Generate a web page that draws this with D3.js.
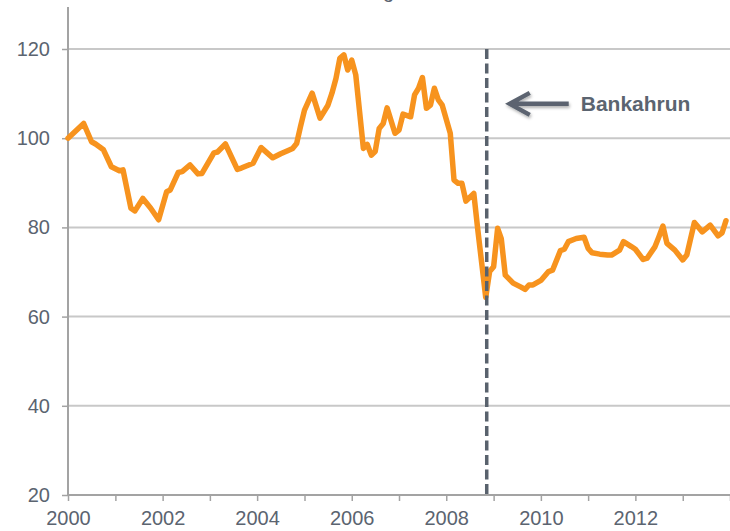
<!DOCTYPE html>
<html lang="de">
<head>
  <meta charset="UTF-8" />
  <title>Bankahrun</title>
  <script src="https://d3js.org/d3.v7.min.js"></script>
  <style>
    html, body {
      margin: 0;
      padding: 0;
      background: #fff;
      font-family: "Liberation Sans", Arial, sans-serif;
    }
    svg {
      display: block;
    }
  </style>
</head>
<body>
<svg width="730" height="531"></svg>
<script>
  // monthly index, Jan 2000 = 100
  const months = [
    "2000-01", "2000-05", "2000-07", "2000-08", "2000-10", "2000-12",
    "2001-02", "2001-03", "2001-05", "2001-06", "2001-08", "2001-10", "2001-12",
    "2002-02", "2002-03", "2002-05", "2002-06", "2002-08", "2002-10", "2002-11",
    "2003-02", "2003-03", "2003-05", "2003-08", "2003-09", "2003-12",
    "2004-02", "2004-05", "2004-07", "2004-09", "2004-10", "2004-11", "2004-12",
    "2005-01", "2005-03", "2005-05", "2005-07", "2005-08", "2005-09", "2005-10", "2005-11", "2005-12",
    "2006-01", "2006-02", "2006-04", "2006-05", "2006-06", "2006-07", "2006-08", "2006-09", "2006-10", "2006-12",
    "2007-01", "2007-02", "2007-04", "2007-05", "2007-06", "2007-07", "2007-08", "2007-09", "2007-10", "2007-11", "2007-12",
    "2008-02", "2008-03", "2008-04", "2008-05", "2008-06", "2008-08", "2008-09", "2008-11", "2008-12",
    "2009-01", "2009-02", "2009-03", "2009-04", "2009-06", "2009-08", "2009-09", "2009-10", "2009-11",
    "2010-01", "2010-03", "2010-04", "2010-06", "2010-07", "2010-08", "2010-10", "2010-12",
    "2011-01", "2011-02", "2011-04", "2011-06", "2011-07", "2011-09", "2011-10", "2011-12",
    "2012-01", "2012-03", "2012-04", "2012-06", "2012-07", "2012-08", "2012-09", "2012-11",
    "2013-01", "2013-02", "2013-04", "2013-06", "2013-08", "2013-10", "2013-11", "2013-12"
  ];
  const values = [
    100.0, 103.3, 99.2, 98.7, 97.4, 93.6,
    92.7, 92.9, 84.3, 83.7, 86.5, 84.3, 81.7,
    88.0, 88.4, 92.3, 92.5, 94.0, 92.0, 92.1,
    96.7, 96.9, 98.7, 93.0, 93.3, 94.4,
    97.9, 95.6, 96.5, 97.3, 97.7, 98.8, 102.6,
    106.3, 110.1, 104.5, 107.4, 110.1, 113.4, 117.9, 118.7, 115.3,
    117.5, 114.2, 97.7, 98.6, 96.2, 97.0, 102.2, 103.3, 106.8, 101.1,
    101.8, 105.4, 104.8, 109.7, 111.2, 113.6, 106.7, 107.4, 111.2, 108.6, 107.4,
    101.1, 90.6, 89.9, 89.9, 85.9, 87.6, 79.4, 64.3, 70.1,
    71.2, 79.8, 77.5, 69.3, 67.5, 66.6, 66.1, 67.1, 67.1,
    68.1, 70.1, 70.4, 74.8, 75.1, 76.8, 77.5, 77.8,
    75.3, 74.3, 74.0, 73.8, 73.8, 74.9, 76.8, 75.7,
    75.1, 72.8, 73.1, 75.7, 77.9, 80.3, 76.4, 74.9,
    72.7, 73.8, 81.1, 79.0, 80.5, 78.1, 78.8, 81.5
  ];
  const yTicks = [20, 40, 60, 80, 100, 120];
  const xLabelYears = [2000, 2002, 2004, 2006, 2008, 2010, 2012];
  const crashMonth = "2008-11";
  const crashLabel = "Bankahrun";
  const title = "Wechselkursentwicklung Isländische Krone";

  const svg = d3.select("svg");
  const parse = d3.timeParse("%Y-%m");
  const data = months.map((m, i) => ({ date: parse(m), value: values[i] }));

  const plotLeft = 68, plotRight = 730, plotTop = 49, plotBottom = 495;
  const x = d3.scaleTime()
    .domain([new Date(2000, 0, 1), new Date(2014, 0, 1)])
    .range([plotLeft, plotRight]);
  const y = d3.scaleLinear().domain([20, 120]).range([plotBottom, plotTop]);

  const textColor = "#5b6470";
  const axisColor = "#a3a3a3";

  // title (cropped at the top of the picture)
  const titleText = svg.append("text")
    .attr("y", -2)
    .attr("font-size", 20)
    .attr("fill", textColor)
    .text(title);
  const gIndex = title.indexOf("g");
  const gOffset = titleText.node().getSubStringLength(0, gIndex);
  titleText.attr("x", 383 - gOffset);

  // gridlines
  svg.append("g")
    .selectAll("line")
    .data(yTicks.filter(d => d > 20))
    .join("line")
    .attr("x1", plotLeft).attr("x2", plotRight)
    .attr("y1", d => y(d)).attr("y2", d => y(d))
    .attr("stroke", "#c8c8c8").attr("stroke-width", 2);

  // y axis
  const yAxis = svg.append("g")
    .attr("transform", `translate(${plotLeft},0)`)
    .call(d3.axisLeft(y).tickValues(yTicks).tickSize(6).tickPadding(12));
  yAxis.select(".domain").remove();
  yAxis.selectAll(".tick line").attr("stroke", axisColor).attr("stroke-width", 1.5);
  yAxis.selectAll(".tick text")
    .attr("font-size", 20).attr("font-family", "Liberation Sans, Arial, sans-serif")
    .attr("fill", textColor);
  svg.append("line")
    .attr("x1", plotLeft).attr("x2", plotLeft)
    .attr("y1", 7).attr("y2", plotBottom)
    .attr("stroke", axisColor).attr("stroke-width", 2);

  // x axis
  const xAxis = svg.append("g")
    .attr("transform", `translate(0,${plotBottom})`)
    .call(d3.axisBottom(x)
      .ticks(d3.timeYear.every(1))
      .tickSize(6)
      .tickPadding(10)
      .tickFormat(d => xLabelYears.includes(d.getFullYear()) ? d.getFullYear() : ""));
  xAxis.select(".domain").remove();
  xAxis.selectAll(".tick line").attr("stroke", axisColor).attr("stroke-width", 1.5);
  xAxis.selectAll(".tick text")
    .attr("font-size", 20).attr("font-family", "Liberation Sans, Arial, sans-serif")
    .attr("fill", textColor);
  svg.append("line")
    .attr("x1", plotLeft).attr("x2", plotRight)
    .attr("y1", plotBottom).attr("y2", plotBottom)
    .attr("stroke", axisColor).attr("stroke-width", 2);

  // series
  const line = d3.line().x(d => x(d.date)).y(d => y(d.value));
  svg.append("path")
    .datum(data)
    .attr("d", line)
    .attr("fill", "none")
    .attr("stroke", "#f7931e")
    .attr("stroke-width", 5.5)
    .attr("stroke-linejoin", "round")
    .attr("stroke-linecap", "round");

  // bank run marker
  const cx = x(parse(crashMonth)) + 1;
  svg.append("line")
    .attr("x1", cx).attr("x2", cx)
    .attr("y1", y(120)).attr("y2", plotBottom)
    .attr("stroke", "#59626d")
    .attr("stroke-width", 3.5)
    .attr("stroke-dasharray", "10,4.5");

  const defs = svg.append("defs");
  const shadow = defs.append("filter").attr("id", "shadow")
    .attr("x", "-20%").attr("y", "-50%").attr("width", "140%").attr("height", "200%");
  shadow.append("feDropShadow")
    .attr("dx", 1).attr("dy", 2).attr("stdDeviation", 1.5)
    .attr("flood-color", "#000").attr("flood-opacity", 0.3);

  const ay = y(107.7);
  const tip = cx + 22;
  svg.append("path")
    .attr("d", `M${tip + 60},${ay} L${tip + 2},${ay} M${tip + 21},${ay - 11} L${tip + 1},${ay} L${tip + 21},${ay + 11}`)
    .attr("fill", "none")
    .attr("stroke", "#5b6470")
    .attr("stroke-width", 4.5)
    .attr("stroke-linejoin", "miter")
    .attr("filter", "url(#shadow)");

  svg.append("text")
    .attr("x", tip + 72)
    .attr("y", ay + 7.5)
    .attr("font-size", 21)
    .attr("font-weight", "bold")
    .attr("fill", textColor)
    .text(crashLabel);
</script>
</body>
</html>
